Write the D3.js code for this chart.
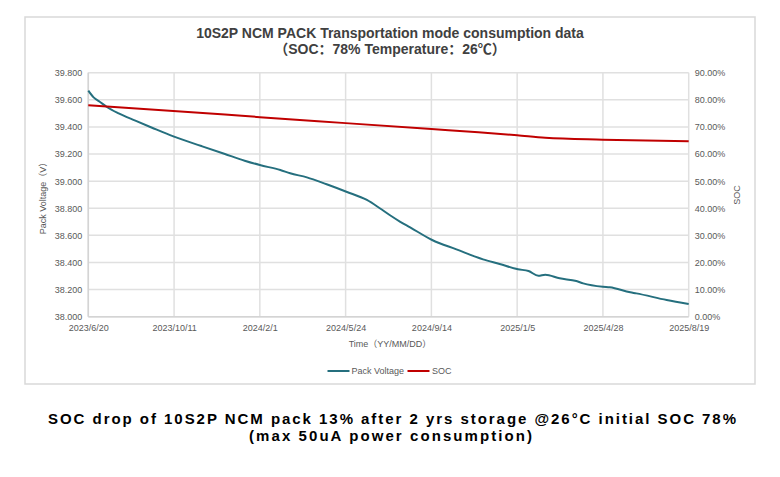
<!DOCTYPE html>
<html><head><meta charset="utf-8">
<script src="https://cdn.jsdelivr.net/npm/d3@7"></script>
<style>
html,body{margin:0;padding:0;background:#fff;}
svg{display:block;}
text{font-family:"Liberation Sans",Arial,"Noto Sans CJK SC",sans-serif;}
</style></head>
<body><svg id="c" width="780" height="477"></svg>
<script>
// ---- data ----
const tickLabels = ["2023/6/20","2023/10/11","2024/2/1","2024/5/24","2024/9/14","2025/1/5","2025/4/28","2025/8/19"];
const voltageDates = ["2023-06-20","2023-06-27","2023-07-05","2023-07-14","2023-07-30","2023-08-21","2023-09-12","2023-10-11",
  "2023-11-16","2023-12-17","2024-01-12","2024-02-01","2024-02-28","2024-03-12","2024-04-03","2024-04-29","2024-05-25",
  "2024-06-21","2024-07-08","2024-07-21","2024-08-04","2024-08-17","2024-09-15","2024-10-17","2024-11-21","2024-12-13",
  "2025-01-06","2025-01-20","2025-02-02","2025-02-11","2025-03-02","2025-03-24","2025-04-02","2025-04-28","2025-05-07",
  "2025-06-03","2025-06-11","2025-07-21","2025-08-19"];
const voltageValues = [39.668,39.618,39.586,39.549,39.500,39.446,39.394,39.328,
  39.259,39.200,39.151,39.119,39.082,39.058,39.028,38.977,38.922,
  38.861,38.800,38.750,38.700,38.659,38.566,38.497,38.423,38.389,
  38.350,38.337,38.302,38.310,38.283,38.263,38.246,38.221,38.217,
  38.180,38.172,38.123,38.094];
const socDates = ["2023-06-20","2023-12-17","2024-02-01","2024-05-24","2024-09-14","2024-11-15","2025-01-05","2025-02-11","2025-04-28","2025-08-19"];
const socValues = [0.780,0.746,0.736,0.714,0.692,0.680,0.669,0.660,0.653,0.647];
const leftTicks = [38.0,38.2,38.4,38.6,38.8,39.0,39.2,39.4,39.6,39.8];
const rightTicks = [0,0.1,0.2,0.3,0.4,0.5,0.6,0.7,0.8,0.9];

// ---- helpers ----
function pd(s){ const p = s.split(/[-\/]/).map(Number); return new Date(p[0], p[1]-1, p[2]); }

const svg = d3.select("#c");
const L = 88.3, R = 688.7, T = 72.7, B = 316.7;

const x = d3.scaleTime().domain([pd(tickLabels[0]), pd(tickLabels[tickLabels.length-1])]).range([L, R]);
const yL = d3.scaleLinear().domain([38, 39.8]).range([B, T]);
const yR = d3.scaleLinear().domain([0, 0.9]).range([B, T]);

// chart frame
svg.append("rect").attr("x",25).attr("y",17).attr("width",730).attr("height",367)
  .attr("fill","#fff").attr("stroke","#d9d9d9").attr("stroke-width",1.5);

// titles
svg.append("text").attr("x",390).attr("y",37.5).attr("text-anchor","middle")
  .attr("font-size",14).attr("font-weight","bold").attr("fill","#404040")
  .text("10S2P NCM PACK Transportation mode consumption data");
svg.append("text").attr("x",390).attr("y",54).attr("text-anchor","middle")
  .attr("font-size",14).attr("font-weight","bold").attr("fill","#404040")
  .text("（SOC：78% Temperature：26℃）");

// grid
const g = svg.append("g");
g.selectAll("line.h").data(leftTicks).join("line")
  .attr("x1",L).attr("x2",R).attr("y1",d=>yL(d)).attr("y2",d=>yL(d))
  .attr("stroke","#e0e0e0").attr("stroke-width",1.5);
g.selectAll("line.v").data(tickLabels).join("line")
  .attr("x1",d=>x(pd(d))).attr("x2",d=>x(pd(d))).attr("y1",T).attr("y2",B)
  .attr("stroke","#e0e0e0").attr("stroke-width",1.5);
// axis lines
g.append("line").attr("x1",L).attr("x2",L).attr("y1",T).attr("y2",B).attr("stroke","#d4d4d4").attr("stroke-width",1.5);
g.append("line").attr("x1",L).attr("x2",R).attr("y1",B).attr("y2",B).attr("stroke","#d4d4d4").attr("stroke-width",1.5);

// axes
const axL = svg.append("g").attr("transform",`translate(${L},0)`)
  .call(d3.axisLeft(yL).tickValues(leftTicks).tickFormat(d3.format(".3f")).tickSize(0).tickPadding(6));
const axR = svg.append("g").attr("transform",`translate(${R},0)`)
  .call(d3.axisRight(yR).tickValues(rightTicks).tickFormat(d3.format(".2%")).tickSize(0).tickPadding(6));
const axB = svg.append("g").attr("transform",`translate(0,${B})`)
  .call(d3.axisBottom(x).tickValues(tickLabels.map(pd)).tickFormat((d,i)=>tickLabels[i]).tickSize(0).tickPadding(8));
[axL,axR,axB].forEach(a=>{
  a.select(".domain").remove();
  a.selectAll("text").attr("font-size",9).attr("fill","#595959")
    .attr("font-family",'"Liberation Sans",Arial,sans-serif');
});

// axis titles
svg.append("text").attr("transform","translate(46,196) rotate(-90)").attr("text-anchor","middle")
  .attr("font-size",9).attr("fill","#595959").text("Pack Voltage（V）");
svg.append("text").attr("transform","translate(740,195) rotate(-90)").attr("text-anchor","middle")
  .attr("font-size",9).attr("fill","#595959").text("SOC");
svg.append("text").attr("x",390).attr("y",347).attr("text-anchor","middle")
  .attr("font-size",9).attr("fill","#595959").text("Time（YY/MM/DD）");

// lines
const vData = voltageDates.map((d,i)=>({d:pd(d), v:voltageValues[i]}));
const sData = socDates.map((d,i)=>({d:pd(d), v:socValues[i]}));
svg.append("path").datum(vData)
  .attr("d", d3.line().x(d=>x(d.d)).y(d=>yL(d.v)).curve(d3.curveMonotoneX))
  .attr("fill","none").attr("stroke","#256f7e").attr("stroke-width",2);
svg.append("path").datum(sData)
  .attr("d", d3.line().x(d=>x(d.d)).y(d=>yR(d.v)).curve(d3.curveMonotoneX))
  .attr("fill","none").attr("stroke","#c00000").attr("stroke-width",2);

// legend
const lg = svg.append("g").attr("transform","translate(0,371)");
lg.append("line").attr("x1",327.5).attr("x2",349.5).attr("y1",0).attr("y2",0).attr("stroke","#256f7e").attr("stroke-width",2);
lg.append("text").attr("x",351.5).attr("y",3).attr("font-size",9).attr("fill","#595959").text("Pack Voltage");
lg.append("line").attr("x1",407.5).attr("x2",429.5).attr("y1",0).attr("y2",0).attr("stroke","#c00000").attr("stroke-width",2);
lg.append("text").attr("x",432).attr("y",3).attr("font-size",9).attr("fill","#595959").text("SOC");

// caption
svg.append("text").attr("x",392).attr("y",423.5).attr("text-anchor","middle")
  .attr("font-size",15).attr("font-weight","bold").attr("fill","#000")
  .attr("textLength",688).attr("lengthAdjust","spacing")
  .text("SOC drop of 10S2P NCM pack 13% after 2 yrs storage @26°C initial SOC 78%");
svg.append("text").attr("x",390.5).attr("y",440.5).attr("text-anchor","middle")
  .attr("font-size",15).attr("font-weight","bold").attr("fill","#000")
  .attr("textLength",283).attr("lengthAdjust","spacing")
  .text("(max 50uA power consumption)");
</script></body></html>
